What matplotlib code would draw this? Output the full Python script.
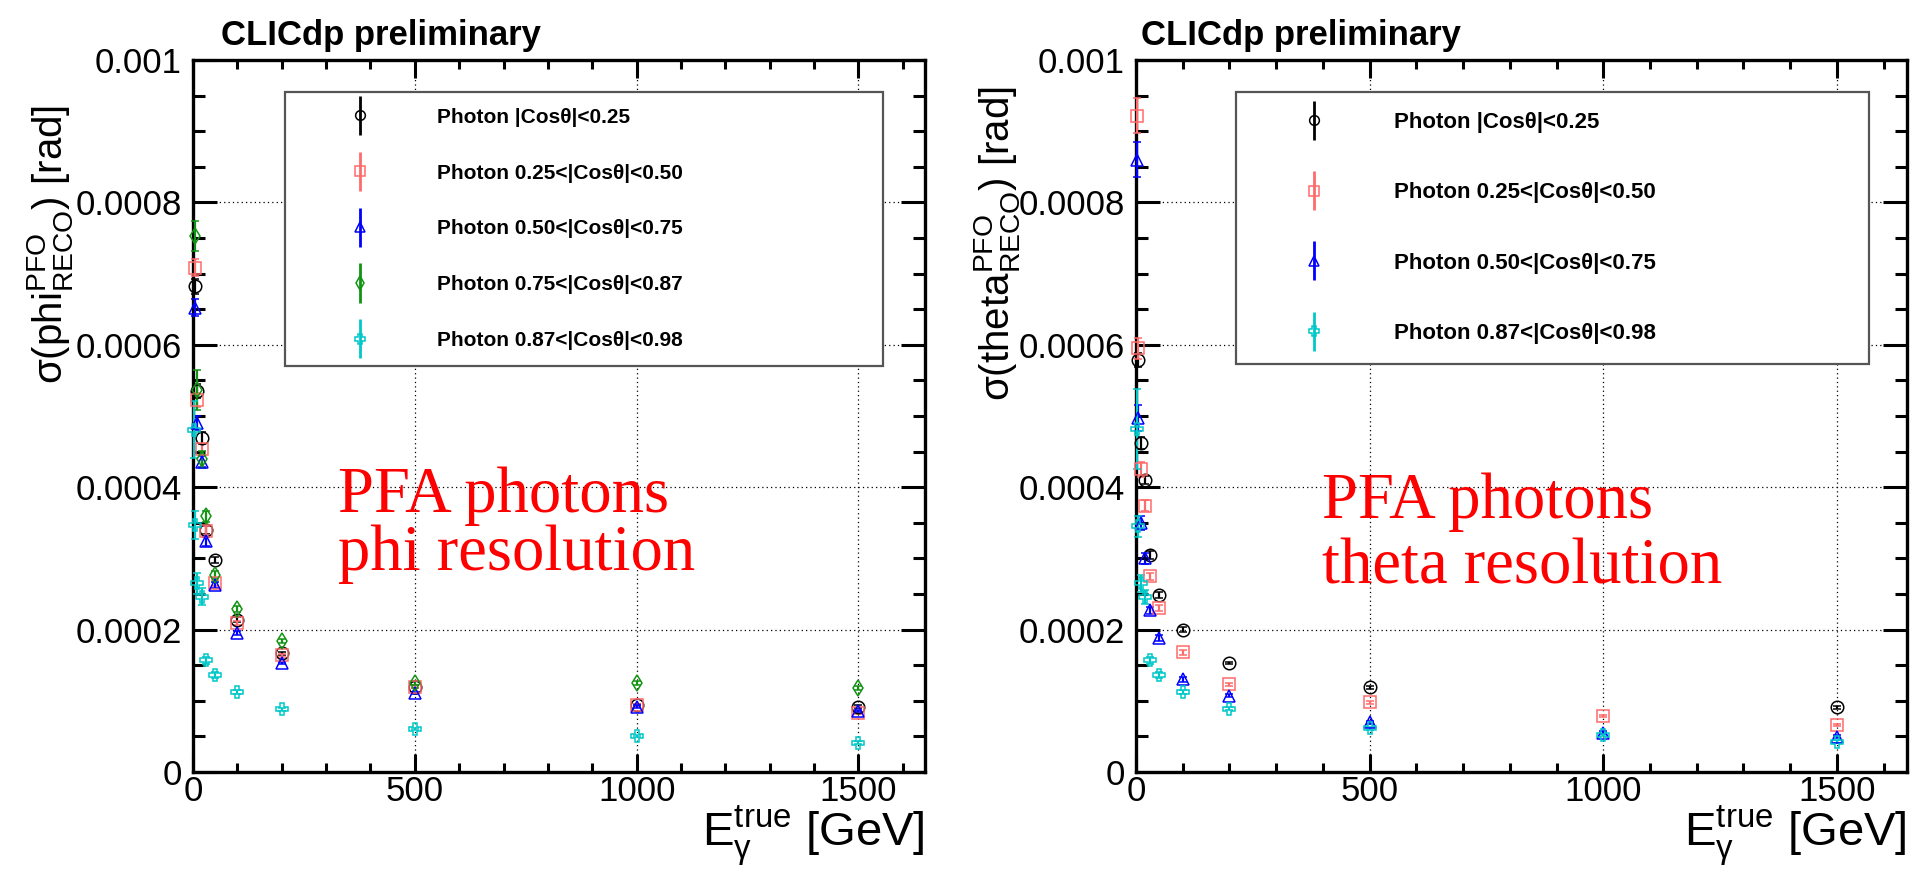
import numpy as np
import matplotlib
matplotlib.use('Agg')
import matplotlib.pyplot as plt
from matplotlib import font_manager
from matplotlib.ticker import MultipleLocator
from matplotlib.container import ErrorbarContainer
from matplotlib.legend_handler import HandlerErrorbar

nan = np.nan

# true photon energy [GeV]
energy = [2, 5, 10, 20, 30, 50, 100, 200, 500, 1000, 1500]

labels = ['Photon |Cosθ|<0.25', 'Photon 0.25<|Cosθ|<0.50', 'Photon 0.50<|Cosθ|<0.75',
          'Photon 0.75<|Cosθ|<0.87', 'Photon 0.87<|Cosθ|<0.98']

# phi resolution [rad]
phi_b1 = [nan, 6.82e-4, 5.35e-4, 4.69e-4, 3.40e-4, 2.98e-4, 2.14e-4, 1.67e-4, 1.20e-4, 9.42e-5, 9.18e-5]
phi_b2 = [nan, 7.08e-4, 5.23e-4, 4.53e-4, 3.39e-4, 2.65e-4, 2.09e-4, 1.64e-4, 1.20e-4, 9.42e-5, 8.34e-5]
phi_b3 = [nan, 6.52e-4, 4.90e-4, 4.36e-4, 3.24e-4, 2.63e-4, 1.95e-4, 1.53e-4, 1.11e-4, 9.18e-5, 8.57e-5]
phi_b4 = [nan, 7.53e-4, 5.37e-4, 4.39e-4, 3.59e-4, 2.77e-4, 2.29e-4, 1.84e-4, 1.25e-4, 1.25e-4, 1.18e-4]
phi_b5 = [4.81e-4, 3.47e-4, 2.65e-4, 2.46e-4, 1.57e-4, 1.36e-4, 1.12e-4, 8.8e-5, 6.04e-5, 5.06e-5, 4.12e-5]

phi_b1_err = [nan, 1.0e-5, 1.0e-5, 8e-6, 6e-6, 4e-6, 3e-6, 2e-6, 2e-6, 2e-6, 2e-6]
phi_b2_err = [nan, 1.2e-5, 1.0e-5, 8e-6, 6e-6, 4e-6, 3e-6, 2e-6, 2e-6, 2e-6, 2e-6]
phi_b3_err = [nan, 1.2e-5, 1.0e-5, 8e-6, 6e-6, 4e-6, 3e-6, 2e-6, 2e-6, 2e-6, 2e-6]
phi_b4_err = [nan, 2.1e-5, 2.8e-5, 1.2e-5, 8e-6, 5e-6, 4e-6, 3e-6, 3e-6, 3e-6, 3e-6]
phi_b5_err = [4.0e-5, 2.0e-5, 1.5e-5, 1.2e-5, 5e-6, 4e-6, 3e-6, 2e-6, 2e-6, 2e-6, 2e-6]

# theta resolution [rad]
theta_b1 = [nan, 5.79e-4, 4.62e-4, 4.10e-4, 3.05e-4, 2.49e-4, 2.00e-4, 1.53e-4, 1.19e-4, nan, 9.1e-5]
theta_b2 = [9.22e-4, 5.95e-4, 4.25e-4, 3.74e-4, 2.75e-4, 2.30e-4, 1.68e-4, 1.23e-4, 9.8e-5, 7.87e-5, 6.6e-5]
theta_b3 = [8.60e-4, 4.97e-4, 3.50e-4, 3.00e-4, 2.27e-4, 1.88e-4, 1.30e-4, 1.07e-4, 7.0e-5, 5.53e-5, 4.97e-5]
theta_b5 = [4.82e-4, 3.45e-4, 2.65e-4, 2.46e-4, 1.57e-4, 1.36e-4, 1.12e-4, 8.86e-5, 6.14e-5, 5.2e-5, 4.26e-5]

theta_b1_err = [nan, 1.0e-5, 8e-6, 6e-6, 6e-6, 4e-6, 3e-6, 2e-6, 2e-6, nan, 2e-6]
theta_b2_err = [2.4e-5, 1.5e-5, 1.0e-5, 8e-6, 5e-6, 4e-6, 3e-6, 2e-6, 2e-6, 2e-6, 2e-6]
theta_b3_err = [2.5e-5, 1.8e-5, 1.0e-5, 8e-6, 5e-6, 4e-6, 3e-6, 2e-6, 2e-6, 2e-6, 2e-6]
theta_b5_err = [5.6e-5, 1.5e-5, 1.2e-5, 1.0e-5, 5e-6, 4e-6, 3e-6, 2e-6, 2e-6, 2e-6, 2e-6]

x_ticks = [0, 500, 1000, 1500]
y_ticks = [0, 0.0002, 0.0004, 0.0006, 0.0008, 0.001]
y_tick_labels = ['0', '0.0002', '0.0004', '0.0006', '0.0008', '0.001']

colors = ['black', '#ff6b6b', '#0000ff', '#139313', '#00c8c8']
markers = ['o', 's', '^', 'd', 'P']

# fonts: condensed helvetica-like if available
names = {f.name for f in font_manager.fontManager.ttflist}
sans = 'Liberation Sans Narrow' if 'Liberation Sans Narrow' in names else 'Liberation Sans'
plt.rcParams['font.family'] = [sans, 'DejaVu Sans']
plt.rcParams['mathtext.fontset'] = 'custom'
plt.rcParams['mathtext.rm'] = sans
plt.rcParams['mathtext.it'] = sans
plt.rcParams['mathtext.bf'] = sans + ':bold'

W, H = 1928, 876
fig = plt.figure(figsize=(W / 100, H / 100), dpi=100)


def fx(px):
    return px / W


def fy(py):
    return 1 - py / H


ax1 = fig.add_axes([fx(193), fy(772), fx(925 - 193), (772 - 60) / H])
ax2 = fig.add_axes([fx(1136), fy(772), fx(1907 - 1136), (772 - 60) / H])


def style_axes(ax):
    ax.set_xlim(0, 1650)
    ax.set_ylim(0, 0.001)
    ax.set_xticks(x_ticks)
    ax.set_xticklabels([str(t) for t in x_ticks])
    ax.set_yticks(y_ticks)
    ax.set_yticklabels(y_tick_labels)
    ax.xaxis.set_minor_locator(MultipleLocator(100))
    ax.yaxis.set_minor_locator(MultipleLocator(0.00005))
    ax.tick_params(which='both', direction='in', top=True, right=True, width=2.2, labelsize=25)
    ax.tick_params(axis='y', which='major', length=17, pad=8)
    ax.tick_params(axis='y', which='minor', length=8.5)
    ax.tick_params(axis='x', which='major', length=13, pad=2)
    ax.tick_params(axis='x', which='minor', length=6.5)
    ax.grid(True, which='major', color='black', linestyle=(0, (1, 2.5)), linewidth=0.9)
    for s in ax.spines.values():
        s.set_linewidth(2.4)


def draw_series(ax, values, errors, idx):
    c = ax.errorbar(energy, values, yerr=errors, fmt=markers[idx], color=colors[idx],
                    mfc='none', mec=colors[idx], ms=9 if markers[idx] != 'd' else 8,
                    mew=1.1, elinewidth=1.6, capsize=3, capthick=1.6, zorder=3)
    for art in c.get_children():
        art.set_clip_on(False)


def add_legend(ax, idxs, bbox, fsize, bpad, lspace, hlen, htpad, esize):
    handles = []
    for i in idxs:
        h = ax.errorbar(np.array([]), np.array([]), yerr=np.array([]), fmt=markers[i],
                        color=colors[i], mfc='none', mec=colors[i], ms=7, mew=1.1,
                        elinewidth=2.0, capsize=0)
        handles.append(h)
    leg = ax.legend(handles, [labels[i] for i in idxs], loc='upper left', bbox_to_anchor=bbox,
                    mode='expand', borderaxespad=0, borderpad=bpad, labelspacing=lspace,
                    handlelength=hlen, handletextpad=htpad, fancybox=False, framealpha=1,
                    edgecolor='#555555', prop={'weight': 'bold', 'size': fsize},
                    handler_map={ErrorbarContainer: HandlerErrorbar(yerr_size=esize, numpoints=1)})
    leg.get_frame().set_linewidth(1.6)
    leg.set_zorder(5)


style_axes(ax1)
style_axes(ax2)

for i, (v, e) in enumerate(zip([phi_b1, phi_b2, phi_b3, phi_b4, phi_b5],
                               [phi_b1_err, phi_b2_err, phi_b3_err, phi_b4_err, phi_b5_err])):
    draw_series(ax1, v, e, i)

for i, v, e in zip([0, 1, 2, 4], [theta_b1, theta_b2, theta_b3, theta_b5],
                   [theta_b1_err, theta_b2_err, theta_b3_err, theta_b5_err]):
    draw_series(ax2, v, e, i)

add_legend(ax1, [0, 1, 2, 3, 4], (0.1257, 0.955, 0.817, 0.0), 15, 0.75, 1.77, 5.71, 0.84, 0.94)
add_legend(ax2, [0, 1, 2, 4], (0.1297, 0.955, 0.821, 0.0), 16, 0.9, 2.22, 5.23, 0.99, 0.88)

# titles
fig.text(fx(221), fy(45), 'CLICdp preliminary', fontsize=25, weight='bold', ha='left', va='baseline')
fig.text(fx(1141), fy(45), 'CLICdp preliminary', fontsize=25, weight='bold', ha='left', va='baseline')

# axis titles
fig.text(fx(50), fy(105), r'$\sigma(\mathrm{phi}^{\mathrm{PFO}}_{\mathrm{RECO}})$ [rad]',
         fontsize=29, rotation=90, ha='center', va='top')
fig.text(fx(997), fy(86), r'$\sigma(\mathrm{theta}^{\mathrm{PFO}}_{\mathrm{RECO}})$ [rad]',
         fontsize=29, rotation=90, ha='center', va='top')
fig.text(fx(925), fy(846), r'$\mathrm{E}^{\mathrm{true}}_{\gamma}$ [GeV]', fontsize=34, ha='right', va='baseline')
fig.text(fx(1907), fy(846), r'$\mathrm{E}^{\mathrm{true}}_{\gamma}$ [GeV]', fontsize=34, ha='right', va='baseline')

# annotations
red_font = dict(family=['Liberation Serif', 'DejaVu Serif'], fontsize=46.5, color='red', ha='left', va='baseline')
fig.text(fx(338), fy(512), 'PFA photons', **red_font)
fig.text(fx(338), fy(570), 'phi resolution', **red_font)
fig.text(fx(1322), fy(518), 'PFA photons', **red_font)
fig.text(fx(1322), fy(583), 'theta resolution', **red_font)

fig.savefig('out.png', dpi=100)
